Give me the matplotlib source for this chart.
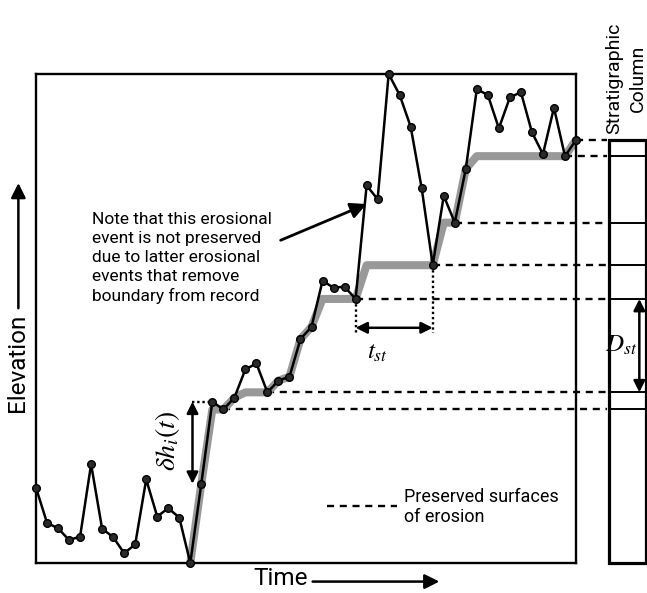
import matplotlib
matplotlib.use("Agg")
import matplotlib.pyplot as plt
from matplotlib.patches import Rectangle

plt.rcParams['font.family'] = ['Roboto', 'DejaVu Sans']
plt.rcParams['mathtext.fontset'] = 'stix'

# Elevation of the surface at each time step (arbitrary units, 0-100)
elevation = [15.4, 8.2, 7.1, 4.7, 5.4, 20.2, 7.0, 5.3, 2.0, 3.8,
             17.1, 9.5, 11.2, 9.3, 0.0, 16.2, 33.0, 31.4, 33.8, 39.6,
             40.8, 34.9, 37.3, 38.1, 45.8, 48.3, 57.7, 56.3, 56.5, 54.0,
             77.2, 74.4, 100.0, 95.7, 89.2, 76.6, 60.9, 75.1, 69.6, 80.6,
             96.9, 95.7, 88.9, 95.2, 96.3, 88.1, 83.6, 93.1, 83.2, 86.5]
time = list(range(len(elevation)))

# Preserved record (what survives later erosion), from step 14 onward
record_start = 14
record = [0.0, 16.2, 31.4, 31.4, 33.8, 34.9, 34.9, 34.9, 37.3, 38.1,
          45.8, 48.3, 54.0, 54.0, 54.0, 54.0, 60.9, 60.9, 60.9, 60.9,
          60.9, 60.9, 60.9, 69.6, 69.6, 80.6, 83.2, 83.2, 83.2, 83.2,
          83.2, 83.2, 83.2, 83.2, 83.2, 86.5]
record_time = list(range(record_start, record_start + len(record)))

# Preserved surfaces of erosion: (time step where surface forms, level)
surface_times = [17, 21, 29, 36, 38, 48, 49]
surface_levels = [31.4, 34.9, 54.0, 60.9, 69.6, 83.2, 86.5]
column_top = 86.5

W, H = 647, 593
fig = plt.figure(figsize=(W / 100, H / 100), dpi=100)
ax = fig.add_axes([36 / W, 30 / H, 540 / W, 489 / H])
ax.set_xlim(0, 49)
ax.set_ylim(0, 100)
ax.set_xticks([])
ax.set_yticks([])
for s in ax.spines.values():
    s.set_linewidth(1.7)

# stratigraphic column axes, sharing the elevation scale
axc = fig.add_axes([609 / W, 30 / H, 37 / W, 489 / H])
axc.set_xlim(0, 1)
axc.set_ylim(0, 100)
axc.axis('off')
axc.add_patch(Rectangle((0, 0), 1, column_top, fill=False, lw=2.3,
                        ec='black', clip_on=False))
for lev in surface_levels[:-1]:
    axc.plot([0, 1], [lev, lev], color='black', lw=1.4, clip_on=False)

# dashed lines carrying each preserved surface to the column
for t, lev in zip(surface_times, surface_levels):
    ax.plot([t, 51.8], [lev, lev], color='black', lw=1.7,
            ls=(0, (3.0, 2.4)), clip_on=False, zorder=1)

ax.plot(record_time, record, color='#999999', lw=5.8,
        solid_capstyle='butt', zorder=2)
ax.plot(time, elevation, color='black', lw=1.8, marker='o', ms=5.5,
        mfc='#2a2a2a', mec='black', mew=1.0, clip_on=False, zorder=3)

arrow2 = dict(arrowstyle='<|-|>', color='black', lw=1.8,
              mutation_scale=17, shrinkA=0, shrinkB=0)
dotted = (0, (1, 1.2))

# delta h arrow
ax.plot([14.2, 16], [33.0, 33.0], color='black', lw=1.7, ls=dotted)
ax.annotate('', xy=(14.2, 33.0), xytext=(14.2, 16.2), arrowprops=arrow2)
ax.text(11.9, 25.0, r'$\delta h_i\left(t\right)$', rotation=90,
        ha='center', va='center', fontsize=20)

# t_st arrow with dotted drops
ax.plot([29, 29], [54.0, 47.0], color='black', lw=1.7, ls=dotted)
ax.plot([36, 36], [60.9, 47.0], color='black', lw=1.7, ls=dotted)
ax.annotate('', xy=(29, 48.1), xytext=(36, 48.1), arrowprops=arrow2)
ax.text(31.0, 43.1, r'$t_{st}$', ha='center', va='center', fontsize=18)

# D_st arrow in the column
axc.annotate('', xy=(0.82, 54.0), xytext=(0.82, 34.9), arrowprops=arrow2)
axc.text(0.32, 44.6, r'$D_{st}$', ha='center', va='center', fontsize=18)

# note about the lost erosional surface
ax.text(5.1, 62.4, 'Note that this erosional\nevent is not preserved\n'
        'due to latter erosional\nevents that remove\nboundary from record',
        ha='left', va='center', fontsize=12.5, linespacing=1.33)
ax.annotate('', xy=(30.0, 73.4), xytext=(22.2, 66.0),
            arrowprops=dict(arrowstyle='-|>', color='black', lw=2.0,
                            mutation_scale=24, shrinkA=0, shrinkB=0))

# legend entry
ax.plot([26.4, 32.8], [11.7, 11.7], color='black', lw=1.7,
        ls=(0, (3.0, 2.4)))
ax.text(33.4, 11.4, 'Preserved surfaces\nof erosion', ha='left',
        va='center', fontsize=13, linespacing=1.15)

# axis labels with arrows
ax.text(-1.65, 40.9, 'Elevation', rotation=90, ha='center', va='center',
        fontsize=17.5)
ax.annotate('', xy=(-1.6, 77.7), xytext=(-1.6, 52.1), annotation_clip=False,
            arrowprops=dict(arrowstyle='-|>', color='black', lw=1.8,
                            mutation_scale=22, shrinkA=0, shrinkB=0))
ax.text(22.2, -3.1, 'Time', ha='center', va='center', fontsize=17.5)
ax.annotate('', xy=(36.6, -3.8), xytext=(25.1, -3.8), annotation_clip=False,
            arrowprops=dict(arrowstyle='-|>', color='black', lw=1.8,
                            mutation_scale=22, shrinkA=0, shrinkB=0))

fig.text(626 / W, 1 - 78 / H, 'Stratigraphic\nColumn', rotation=90,
         ha='center', va='center', multialignment='center', fontsize=14,
         linespacing=1.35)

fig.savefig('out.png', dpi=100)
